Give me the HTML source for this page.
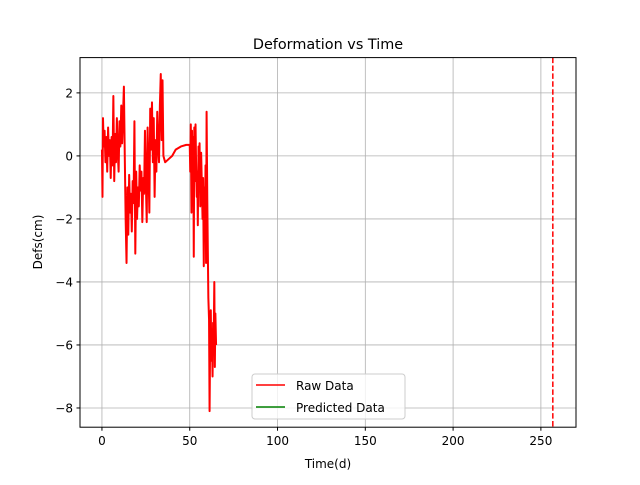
<!DOCTYPE html>
<html><head><meta charset="utf-8"><style>
body{margin:0;background:#fff}
svg text{font-family:"DejaVu Sans","Liberation Sans",sans-serif;fill:#000}
</style></head><body>
<svg id="chart" width="640" height="480" xmlns="http://www.w3.org/2000/svg">
<rect width="640" height="480" fill="#fff"/>
<g id="grid"></g>
<g id="series"></g>
<rect x="80" y="57.6" width="496" height="369.6" fill="none" stroke="#000" stroke-width="1"/>
<g id="ticks"></g>
<text x="328" y="49" font-size="14.4" text-anchor="middle">Deformation vs Time</text>
<text x="328" y="468" font-size="12" text-anchor="middle">Time(d)</text>
<text transform="translate(42,242) rotate(-90)" font-size="12" text-anchor="middle">Defs(cm)</text>
<g>
<rect x="252" y="374" width="153" height="45" rx="3" fill="#fff" fill-opacity="0.8" stroke="#ccc"/>
<line x1="256" y1="385" x2="285" y2="385" stroke="#f00" stroke-width="1.5"/>
<text x="296" y="390" font-size="12">Raw Data</text>
<line x1="256" y1="407" x2="285" y2="407" stroke="#008000" stroke-width="1.5"/>
<text x="296" y="412" font-size="12">Predicted Data</text>
</g>
</svg>
<script>
const xTicks=[0,50,100,150,200,250];
const yTicks=[-8,-6,-4,-2,0,2];
const rawT=[0,0.3,0.6,1,1.5,2,2.5,3,3.5,4,4.5,5,5.5,6,6.5,7,7.5,8,8.5,9,9.5,10,10.5,11,11.5,12,12.5,13,13.5,14,14.5,15,15.5,16,16.5,17,17.5,18,18.5,19,19.5,20,20.5,21,21.5,22,22.5,23,23.5,24,24.5,25,25.5,26,26.5,27,27.5,28,28.5,29,29.5,30,30.5,31,31.5,32,32.5,33,33.5,34,34.5,35,35.5,36,38,40,42,45,48,50,50.3,50.6,51,51.3,51.6,52,52.3,52.6,53,53.3,53.6,54,54.3,54.6,55,55.3,55.6,56,56.5,57,57.3,57.6,58,58.3,58.6,59,59.3,59.6,60,60.3,60.6,61,61.3,61.6,62,62.3,62.6,63,63.3,63.6,64,64.3,64.6,65];
const rawY=[0.2,-1.3,1.2,0.3,0.8,-0.2,0.6,-0.5,0.9,0,0.5,-0.7,0.6,-0.3,1.9,-0.8,0.7,-0.2,1.2,0.1,-0.5,1.1,0.3,1.6,0.4,1.3,2.2,0,-2,-3.4,-1,-2.5,-0.6,-1.8,-1.2,-2.4,-0.8,-1.5,1.1,-3.1,-0.5,-2,-1,-1.6,-0.3,-1.1,-0.5,-2.1,-0.7,-1.2,0.8,-0.8,-2.1,0.9,-0.4,-1.8,1.5,0.2,1.7,-0.2,1.2,-1.3,0.5,-0.5,1.4,0.3,-0.2,1.6,2.6,0.5,2.4,0,-0.1,-0.2,-0.1,0,0.2,0.3,0.35,0.35,-0.5,1.0,-1.8,0.8,-0.5,0.6,-3.2,0.9,-0.8,1.0,-0.2,-1.3,-0.5,-2.2,0.3,-1,0.4,-1.6,0.1,-1.2,-2,-0.7,-3.5,-1,-2.2,-0.3,-3.4,1.4,-1.4,-3,-4.5,-5.2,-8.1,-6,-4.9,-6.5,-5.5,-7,-5.3,-6,-4,-6.7,-5,-6];
const predT=[];
const predY=[];
const markerT=[256.8];
const X0=80,X1=576,Y0=427.2,Y1=57.6,xmin=-12.5,xmax=270,ymin=-8.61,ymax=3.12;
const sx=v=>X0+(v-xmin)/(xmax-xmin)*(X1-X0);
const sy=v=>Y0-(v-ymin)/(ymax-ymin)*(Y0-Y1);
const NS="http://www.w3.org/2000/svg";
const mk=(t,a,p)=>{const e=document.createElementNS(NS,t);for(const k in a)e.setAttribute(k,a[k]);p.appendChild(e);return e;};
const grid=document.getElementById('grid'),ticks=document.getElementById('ticks'),series=document.getElementById('series');
xTicks.forEach(v=>{const x=sx(v);
 let g=mk('line',{x1:x,x2:x,y1:Y1,y2:Y0,stroke:'#b0b0b0','stroke-width':0.8},grid);
 
 
 let t=mk('line',{x1:x,x2:x,y1:Y0,y2:Y0+3.5,stroke:'#000'},ticks);
 
 
 let l=mk('text',{x:x,y:Y0+18,'font-size':12,'text-anchor':'middle'},ticks);l.textContent=v;
 
 
});
yTicks.forEach(v=>{const y=sy(v);
 let g=mk('line',{x1:X0,x2:X1,y1:y,y2:y,stroke:'#b0b0b0','stroke-width':0.8},grid);
 
 
 let t=mk('line',{x1:X0-3.5,x2:X0,y1:y,y2:y,stroke:'#000'},ticks);
 
 
 let l=mk('text',{x:X0-7,y:y+4.5,'font-size':12,'text-anchor':'end'},ticks);l.textContent=(v<0?'\u2212'+(-v):v);
 
 
});
let raw=mk('polyline',{points:rawT.map((t,i)=>sx(t)+','+sy(rawY[i])).join(' '),fill:'none',stroke:'#f00','stroke-width':2,'stroke-linejoin':'round'},series);


if(predT.length){let p=mk('polyline',{points:predT.map((t,i)=>sx(t)+','+sy(predY[i])).join(' '),fill:'none',stroke:'#008000','stroke-width':1.5},series);

}
markerT.forEach(v=>{let d=mk('line',{x1:sx(v),x2:sx(v),y1:Y1,y2:Y0,stroke:'#f00','stroke-width':1.5,'stroke-dasharray':'5.5,2.4'},series);

});
</script>
</body></html>
